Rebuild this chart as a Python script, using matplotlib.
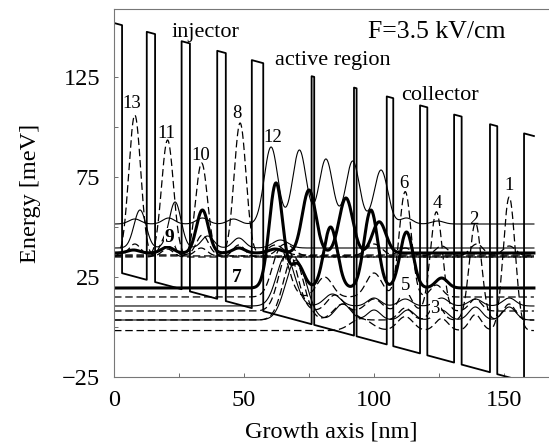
import numpy as np
import matplotlib
matplotlib.use("Agg")
import matplotlib.pyplot as plt

plt.rcParams['font.family'] = ['Liberation Serif', 'DejaVu Serif']

# conduction band: barriers (left edge, right edge) in nm
barrier_left = [0.0, 12.6, 26.0, 39.7, 53.0, 76.0, 92.3, 104.9, 117.7, 130.8, 144.6, 157.7]
barrier_right = [3.1, 15.8, 29.2, 43.0, 57.4, 77.0, 93.3, 107.4, 120.5, 133.7, 147.4, 161.5]
x_end = 161.5             # nm, end of the computed structure
well_bottom_at_0 = 28.0   # meV
field_slope = 0.35        # meV/nm  (3.5 kV/cm)
barrier_height = 124.0    # meV

# states: energy (meV), line style, lobes of |psi|^2 (centre nm, height meV, width nm)
state_E = [35.0, 35.5, 35.0, 36.0, 51.5, 37.0, 19.5, 15.0, 8.0, 3.5, -1.8, 10.5, 39.5, 3.5, 35.5]
state_style = ['dash', 'dash', 'dash', 'dash', 'thin', 'thick', 'thick', 'dash', 'dash', 'dash', 'dash',
               'thin', 'thin', 'thin', 'dash']
lobe_x = [
    [8.0, 20.5],                                        # 13
    [8.0, 20.6, 33.5],                                  # 11
    [20.5, 33.7, 48.0],                                 # 10
    [34.0, 48.5, 62.0],                                 # 8
    [8.0, 21.0, 34.0, 46.0, 60.4, 71.3, 81.5, 91.8, 102.7, 112.5, 124.5],  # 12
    [7.5, 20.5, 34.0, 48.0, 62.0, 75.0, 89.2, 102.0],   # 9
    [62.3, 70.5, 83.3, 98.8, 112.5, 126.0],             # 7 / 5
    [64.0, 81.0, 100.0, 112.0, 124.0],                  # 6
    [67.0, 85.0, 100.0, 112.0, 124.0, 139.0],           # 4
    [69.0, 88.0, 112.0, 124.0, 139.0, 152.0],           # 2
    [95.0, 112.0, 126.0, 139.0, 152.0],                 # 1
    [66.0, 84.0, 100.0, 112.0, 126.0, 139.0, 152.0],    # 3
    [10.0, 23.5, 36.0, 48.0, 64.0],
    [70.0, 88.0, 100.0, 113.0, 126.0, 139.0, 152.0],
    [66.0, 100.0, 112.0, 126.0, 139.5, 152.0],
]
lobe_h = [
    [71.0, 4.0],
    [6.0, 58.0, 4.0],
    [12.0, 47.0, 6.0],
    [10.0, 66.0, 5.0],
    [2.5, 3.0, 3.0, 2.5, 38.5, 37.0, 32.5, 31.5, 27.0, 3.0, 1.5],
    [1.5, 3.0, 21.5, 2.5, 2.0, 31.5, 27.5, 15.6],
    [52.5, 12.0, 30.5, 39.0, 28.0, 5.0],
    [24.0, 10.0, 12.0, 52.7, 6.0],
    [30.0, 8.0, 6.0, 10.0, 49.6, 6.0],
    [32.0, 8.0, 6.0, 8.0, 48.5, 8.0],
    [6.0, 7.0, 6.0, 8.0, 66.8],
    [25.0, 6.0, 4.0, 3.5, 4.0, 3.5, 4.0],
    [19.0, 23.0, 6.0, 5.0, 4.0],
    [30.0, 8.0, 5.0, 5.0, 5.0, 6.5, 6.5],
    [6.0, 6.0, 4.0, 5.0, 6.0, 5.0],
]
lobe_w = [
    [2.3, 2.3],
    [2.3, 2.3, 2.3],
    [2.3, 2.3, 2.3],
    [2.3, 2.3, 3.0],
    [2.3, 2.3, 2.3, 2.3, 2.6, 2.6, 2.6, 2.6, 2.6, 2.3, 2.3],
    [2.3, 2.3, 2.3, 2.3, 2.5, 2.6, 2.6, 2.6],
    [2.6, 2.5, 2.6, 2.6, 2.5, 2.3],
    [3.2, 3.0, 3.0, 2.3, 2.3],
    [3.5, 3.0, 3.0, 2.3, 2.3, 2.3],
    [3.8, 3.5, 2.5, 2.3, 2.3, 2.3],
    [4.0, 3.0, 2.5, 2.3, 2.3],
    [3.5, 3.0, 2.5, 2.5, 2.5, 2.5, 2.5],
    [2.3, 2.3, 2.3, 2.3, 3.0],
    [4.0, 3.0, 2.5, 2.5, 2.5, 2.5, 2.5],
    [3.0, 3.0, 2.5, 2.5, 2.5, 2.5],
]

# labels (text, x nm, E meV, bold)
label_txt = ['13', '11', '10', '8', '12', '9', '7', '6', '4', '2', '1', '5', '3']
label_x = [6.8, 20.0, 33.5, 47.2, 61.0, 21.3, 47.2, 111.5, 124.3, 138.5, 152.0, 112.3, 123.5]
label_y = [111.5, 97.0, 86.0, 106.5, 95.0, 45.0, 25.0, 72.0, 62.0, 54.0, 71.0, 20.5, 9.3]
label_bold = [False, False, False, False, False, True, True, False, False, False, False, False, False]
label_boxed = [False, False, False, False, False, True, False, False, False, False, False, True, True]

styles = {
    'thin': dict(color='black', lw=0.8, ls='-'),
    'dash': dict(color='black', lw=0.9, ls=(0, (6, 3))),
    'thick': dict(color='black', lw=2.2, ls='-'),
}

fig = plt.figure(figsize=(5.49, 4.46), dpi=100)
ax = fig.add_axes([114 / 549, 1 - 377 / 446, 1 - 114 / 549, (377 - 9) / 446])

# band edge polyline
bx, by = [], []
for xl, xr in zip(barrier_left, barrier_right):
    el = well_bottom_at_0 - field_slope * xl
    er = well_bottom_at_0 - field_slope * xr
    bx += [xl, xl, xr]
    by += [el, el + barrier_height, er + barrier_height]
    if xr < x_end:
        bx.append(xr)
        by.append(er)
ax.plot(bx, by, color='black', lw=1.3)

x = np.linspace(0, x_end, 3000)
for E, st, xs, hs, ws in zip(state_E, state_style, lobe_x, lobe_h, lobe_w):
    y = np.full_like(x, E)
    for c, h, w in zip(xs, hs, ws):
        y += h * np.exp(-0.5 * ((x - c) / w) ** 2)
    ax.plot(x, y, **styles[st])

for t, lx, ly, b, bb in zip(label_txt, label_x, label_y, label_bold, label_boxed):
    box = dict(facecolor='white', edgecolor='none', pad=0.5) if bb else None
    ax.text(lx, ly, t, ha='center', va='center', fontsize=14 if b else 13.5,
            fontweight='bold' if b else 'normal', bbox=box, zorder=5)

ax.text(22, 147.5, 'injector', fontsize=16, ha='left', va='center')
ax.text(62, 133, 'active region', fontsize=16, ha='left', va='center')
ax.text(110.5, 116, 'collector', fontsize=16, ha='left', va='center')
ax.text(150.5, 147.5, 'F=3.5 kV/cm', fontsize=18.5, ha='right', va='center')

ax.set_xlim(0, 167.3)
ax.set_ylim(-25, 159)
ax.set_xticks([0, 50, 100, 150])
ax.set_xticks([25, 75, 125], minor=True)
ax.set_yticks([-25, 25, 75, 125])
ax.set_yticks([0, 50, 100], minor=True)
ax.set_yticklabels(['\u221225', '25', '75', '125'])
ax.tick_params(which='both', direction='in', length=3, width=0.6, labelsize=17.5, color='#555555')
ax.tick_params(axis='x', pad=9)
ax.tick_params(axis='y', pad=10)
ax.spines['right'].set_visible(False)
for s in ['left', 'top', 'bottom']:
    ax.spines[s].set_color('#777777')
    ax.spines[s].set_linewidth(0.8)
ax.set_xlabel('Growth axis [nm]', fontsize=17.5, labelpad=8)
ax.set_ylabel('Energy [meV]', fontsize=17.5, labelpad=15)

fig.savefig('out.png', dpi=100)
